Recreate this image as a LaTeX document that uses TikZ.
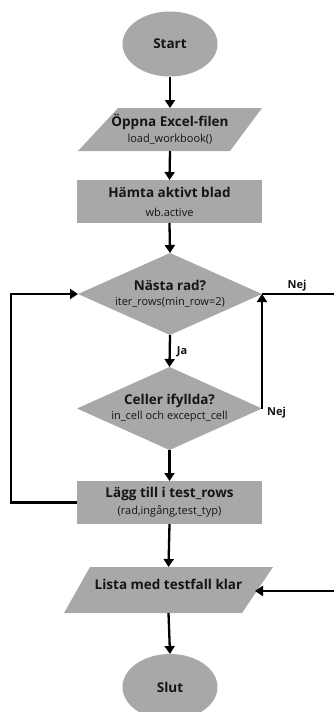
\documentclass[tikz,border=0pt]{standalone}
\usepackage{fontspec}
\setmainfont{Open Sans}
\usetikzlibrary{arrows.meta,shapes.geometric,backgrounds}
\definecolor{shapefill}{HTML}{A8A8A8}
\definecolor{txt}{HTML}{151515}
\tikzset{
  box/.style={rectangle,inner sep=0pt,outer sep=0pt,align=center,text=txt,font=\fontsize{11}{16}\selectfont},
  oval/.style={ellipse,fill=shapefill,inner sep=0pt,outer sep=0pt,minimum width=95pt,minimum height=65pt,text=txt,font=\bfseries\fontsize{13.5}{15}\selectfont},
  arr/.style={line width=2.3pt,-{Triangle[width=10pt,length=8pt]}},
  ln/.style={line width=2.3pt},
  lab/.style={text=txt,font=\bfseries\fontsize{11}{13}\selectfont,inner sep=0pt},
}
\newcommand{\ttl}[1]{{\bfseries\fontsize{13.5}{16}\selectfont #1}}
\newcommand{\sbt}[1]{{\fontsize{11}{16}\selectfont #1}}
\begin{document}
\begin{tikzpicture}[x=1pt,y=-1pt]
\useasboundingbox (0,0) rectangle (334,712);
% nodes
\node[oval] (start) at (170,44) {Start};
\node[box,minimum width=184pt,minimum height=43pt] (p1) at (170,129.5) {\ttl{Öppna Excel-filen}\\\sbt{load\_workbook()}};
\node[box,minimum width=185pt,minimum height=43pt,fill=shapefill] (r1) at (169.5,201.5) {\ttl{Hämta aktivt blad}\\[3pt]\sbt{wb.active}};
\node[box,minimum width=184pt,minimum height=82pt] (d1) at (170,294) {\ttl{Nästa rad?}\\[-1pt]\sbt{iter\_rows(min\_row=2)}};
\node[box,minimum width=185pt,minimum height=83pt] (d2) at (169.5,408.5) {\ttl{Celler ifyllda?}\\[-1pt]\sbt{in\_cell och excepct\_cell}};
\node[box,minimum width=185pt,minimum height=43pt,fill=shapefill] (r2) at (169.5,502.5) {\ttl{Lägg till i test\_rows}\\[1pt]\sbt{(rad,ingång,test\_typ)}};
\node[box,minimum width=209pt,minimum height=46pt] (p2) at (168.5,590) {};
\node[box] (p2t) at (168.5,584) {\ttl{Lista med testfall klar}};
\node[oval,minimum height=66pt] (slut) at (170,687) {Slut};
% shapes behind text
\begin{scope}[on background layer]
\fill[shapefill] ([xshift=40pt]p1.north west) -- (p1.north east) -- ([xshift=-32pt]p1.south east) -- (p1.south west) -- cycle;
\fill[shapefill] (d1.north) -- (d1.east) -- (d1.south) -- (d1.west) -- cycle;
\fill[shapefill] (d2.north) -- (d2.east) -- (d2.south) -- (d2.west) -- cycle;
\fill[shapefill] ([xshift=26pt]p2.north west) -- (p2.north east) -- ([xshift=-31pt]p2.south east) -- (p2.south west) -- cycle;
\end{scope}
% helper coordinates
\coordinate (lx) at (11,0);
\coordinate (rc1) at (338,294);
\coordinate (rc2) at (338,591);
\coordinate (p2e) at (255,591);
% connectors
\draw[arr] (start.south) -- (p1.north);
\draw[arr] (p1.south) -- (r1.north);
\draw[arr] (r1.south) -- (d1.north);
\draw[arr] (d1.south) -- node[lab,anchor=west,xshift=6pt,yshift=-1pt]{Ja} (d2.north);
\draw[arr] (d2.south) -- (r2.north);
\draw[arr] (r2.south) -- (p2.north);
\draw[arr] (p2.south) -- (slut.north);
\draw[arr] (r2.west) -- (r2.west -| lx) |- (d1.west);
\draw[arr] (d2.east) -- (d2.east |- d1.east);
\node[lab,anchor=west] (nej2) at ([xshift=5pt,yshift=-4pt]d2.east) {Nej};
\draw[ln] (d1.east) -- (rc1) -- (rc2);
\node[lab,anchor=south] (nej1) at (297,291) {Nej};
\draw[arr] (rc2) -- (p2e);
\end{tikzpicture}
\end{document}
